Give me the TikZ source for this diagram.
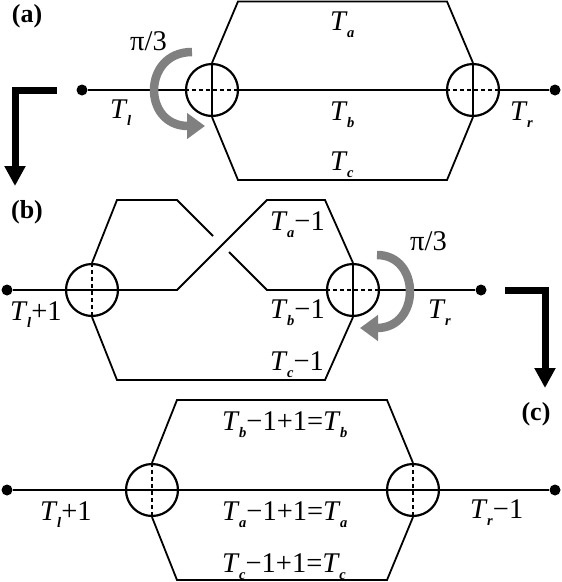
\documentclass[tikz,border=0pt]{standalone}
\usepackage{fontspec}
\setmainfont{Liberation Serif}
\newfontfamily\timesfont{Liberation Serif}
\usetikzlibrary{positioning,arrows.meta,calc}

% italic T with a small italic subscript
\newcommand{\Ts}[1]{\textit{T}\kern-0.5pt\raisebox{-0.28em}{\fontsize{14.5}{15}\selectfont\textit{\textbf{#1}}}}

\begin{document}
\begin{tikzpicture}[x=1pt, y=-1pt,
  font=\timesfont\fontsize{28.5}{32}\selectfont,
  wire/.style={line width=1.8pt},
  seam/.style={line width=1.6pt, dash pattern=on 4pt off 3pt},
  junc/.style={draw, circle, line width=2.2pt, minimum size=52pt, inner sep=0pt},
  dot/.style={circle, fill, inner sep=0pt, minimum size=11pt},
  lbl/.style={anchor=base west, inner sep=0pt},
  tag/.style={inner sep=0pt, font=\timesfont\fontsize{26}{30}\selectfont\bfseries},
  rot/.style={draw=gray, line width=8.5pt, -{Triangle[length=18pt,width=25pt]}},
  turn/.style={line width=7pt, line join=miter, -{Triangle[length=20pt,width=20pt]}},
]
\useasboundingbox (0,0) rectangle (562,582);

% ---------- (a) ----------
\node[tag] (taga) at (27,16) {(a)};
\node[dot]  (la)  at (82,90)  {};
\node[dot]  (ra)  at (555,90) {};
\node[junc] (ja1) at (212,90) {};
\node[junc] (ja2) at (473,90) {};
\draw[wire] (la) -- (ja1.west);
\draw[wire] (ja1.east) -- (ja2.west);
\draw[wire] (ja2.east) -- (ra);
\draw[wire] (ja1.north) -- (ja1.south);
\draw[seam] (ja1.west) -- (ja1.east);
\draw[wire] (ja2.north) -- (ja2.south);
\draw[seam] (ja2.west) -- (ja2.east);
\draw[wire] (ja1.north) -- (238,1.5) -- (447,1.5) -- (ja2.north);
\draw[wire] (ja1.south) -- (238,180) -- (447,180) -- (ja2.south);
\node[lbl] (Tla) at (110,118) {\Ts{l}};
\node[lbl] (Taa) at (330,30)  {\Ts{a}};
\node[lbl] (Tba) at (330,120) {\Ts{b}};
\node[lbl] (Tca) at (330,170) {\Ts{c}};
\node[lbl] (Tra) at (510,120) {\Ts{r}};
\node[lbl] (pia) at (130,50)  {π/3};
\draw[rot] (192,52) .. controls (142,52) and (142,126) .. (205,126);
\coordinate (ta0) at (57,90);
\coordinate (ta1) at (15,90);
\coordinate (ta2) at (15,186);
\draw[turn] (ta0) -- (ta1) -- (ta2);

% ---------- (b) ----------
\node[tag] (tagb) at (27,212) {(b)};
\node[dot]  (lb)  at (7,290)   {};
\node[dot]  (rb)  at (481,290) {};
\node[junc] (jb1) at (92,290)  {};
\node[junc] (jb2) at (353,290) {};
\draw[wire] (lb) -- (jb1.west);
\draw[wire] (jb1.west) -- (jb1.east);
\draw[seam] (jb1.north) -- (jb1.south);
\draw[wire] (jb2.north) -- (jb2.south);
\draw[seam] (jb2.west) -- (jb2.east);
\draw[wire] (jb2.east) -- (rb);
\draw[wire] (jb1.east) -- (177,290) -- (267,200) -- (325,200) -- (jb2.north);
\draw[wire] (jb1.north) -- (117,200) -- (177,200) -- (213,236);
\draw[wire] (229,252) -- (267,290) -- (jb2.west);
\draw[wire] (jb1.south) -- (117,380) -- (325,380) -- (jb2.south);
\node[lbl] (Tlb) at (10,320)  {\Ts{l}+1};
\node[lbl] (Tab) at (270,230) {\Ts{a}−1};
\node[lbl] (Tbb) at (270,318) {\Ts{b}−1};
\node[lbl] (Tcb) at (270,370) {\Ts{c}−1};
\node[lbl] (Trb) at (428,318) {\Ts{r}};
\node[lbl] (pib) at (410,250) {π/3};
\draw[rot] (377,255) .. controls (421,255) and (421,328) .. (360,328);
\coordinate (tb0) at (505,290);
\coordinate (tb1) at (545,290);
\coordinate (tb2) at (545,388);
\draw[turn] (tb0) -- (tb1) -- (tb2);

% ---------- (c) ----------
\node[tag] (tagc) at (536,414) {(c)};
\node[dot]  (lc)  at (7,490)   {};
\node[dot]  (rc)  at (555,490) {};
\node[junc] (jc1) at (152,490) {};
\node[junc] (jc2) at (413,490) {};
\draw[wire] (lc) -- (jc1.west) -- (jc1.east) -- (jc2.west) -- (jc2.east) -- (rc);
\draw[seam] (jc1.north) -- (jc1.south);
\draw[seam] (jc2.north) -- (jc2.south);
\draw[wire] (jc1.north) -- (177,400) -- (387,400) -- (jc2.north);
\draw[wire] (jc1.south) -- (177,580) -- (387,580) -- (jc2.south);
\node[lbl] (Tlc) at (40,520)  {\Ts{l}+1};
\node[lbl] (Tbc) at (222,430) {\Ts{b}−1+1=\Ts{b}};
\node[lbl] (Tac) at (222,520) {\Ts{a}−1+1=\Ts{a}};
\node[lbl] (Tcc) at (222,572) {\Ts{c}−1+1=\Ts{c}};
\node[lbl] (Trc) at (470,518) {\Ts{r}−1};
\end{tikzpicture}
\end{document}
